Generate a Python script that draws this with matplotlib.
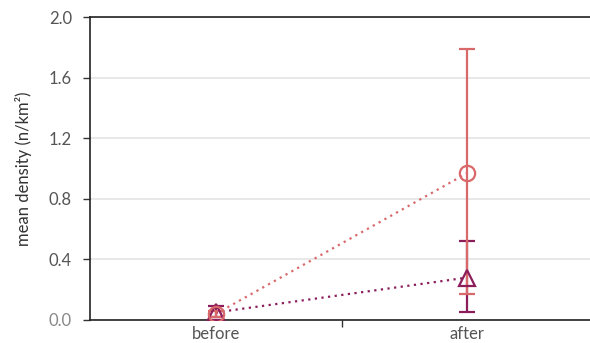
import matplotlib.pyplot as plt
import numpy as np

plt.rcParams["font.family"] = ["Lato", "DejaVu Sans"]

# Mean densities before/after, with error bar limits
periods = ["before", "after"]
circle_mean = [0.04, 0.97]
circle_low = [0.02, 0.17]
circle_high = [0.06, 1.79]
triangle_mean = [0.05, 0.28]
triangle_low = [0.02, 0.05]
triangle_high = [0.09, 0.52]

y_ticks = [0.0, 0.4, 0.8, 1.2, 1.6, 2.0]

salmon = "#d9686a"
plum = "#8c1d5b"
text_grey = "#555555"

fig = plt.figure(figsize=(5.9, 3.43), dpi=100)
ax = fig.add_axes([90 / 590, 23 / 343, 503 / 590, 303 / 343])

x = np.arange(len(periods)) + 0.5


def draw_series(mean, low, high, color, marker):
    mean = np.array(mean)
    yerr = [mean - np.array(low), np.array(high) - mean]
    ax.plot(x, mean, linestyle=(0, (1, 2)), color=color, linewidth=1.6, zorder=2)
    ax.errorbar(
        x, mean, yerr=yerr, fmt="none", ecolor=color, elinewidth=1.6,
        capsize=6, capthick=1.6, zorder=3,
    )
    ax.plot(
        x, mean, linestyle="none", marker=marker, markersize=11,
        markerfacecolor="none", markeredgecolor=color, markeredgewidth=1.6, zorder=4,
    )


draw_series(triangle_mean, triangle_low, triangle_high, plum, "^")
draw_series(circle_mean, circle_low, circle_high, salmon, "o")

ax.set_xlim(0, 2)
ax.set_ylim(0, 2.0)
ax.set_yticks(y_ticks)
ax.set_yticklabels([f"{v:.1f}" for v in y_ticks])
ax.set_xticks([1, 2])
ax.set_xticklabels([])
ax.set_xticks(x, minor=True)
ax.set_xticklabels(periods, minor=True)
ax.tick_params(axis="x", which="minor", length=0, pad=4, labelsize=12, labelcolor=text_grey)
ax.tick_params(axis="x", which="major", length=5, width=1, color="#333333")
ax.tick_params(axis="y", length=5, width=1, color="#333333", pad=8,
               labelsize=12, labelcolor=text_grey)

for t, v in zip(ax.get_yticklabels(), y_ticks):
    if v == 0.0:
        t.set_color("#888888")

ax.grid(axis="y", color="#e4e4e4", linewidth=1.2, zorder=0)
ax.set_axisbelow(True)

for side in ["left", "top", "bottom"]:
    ax.spines[side].set_color("#222222")
    ax.spines[side].set_linewidth(1.2)
ax.spines["right"].set_visible(False)

ax.set_ylabel("mean density (n/km²)", fontsize=12, color="#333333", labelpad=12)

fig.savefig("out.png", dpi=100)
